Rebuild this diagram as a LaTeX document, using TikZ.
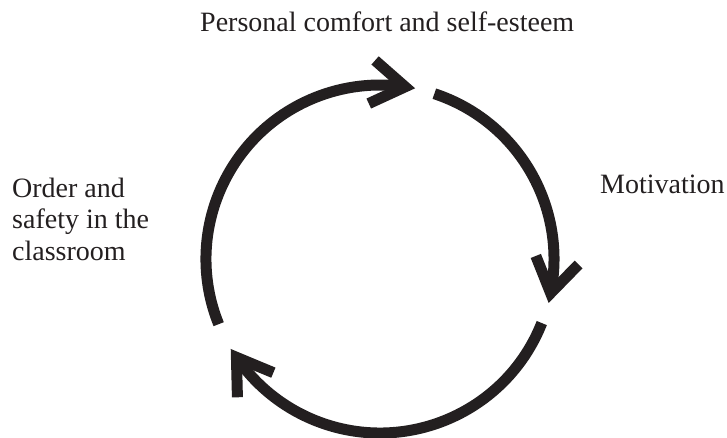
\documentclass[tikz,border=0pt]{standalone}
\usepackage{fontspec}
\setmainfont{Liberation Serif}
\usetikzlibrary{calc}
\definecolor{ink}{HTML}{231F20}
\begin{document}
\begin{tikzpicture}[x=1pt,y=-1pt,
  cyc/.style={line width=11pt, draw=ink, line cap=butt},
  barb/.style={line width=11pt, draw=ink, line cap=butt, line join=miter},
  lbl/.style={inner sep=0pt, text=ink, font=\fontsize{28}{31.5}\selectfont}]
\useasboundingbox (0,0) rectangle (727,438);
\coordinate (c) at (380,259);
% arcs (clockwise on screen = increasing angle since y is flipped)
\coordinate (s1) at ($(c)+(158:174)$);
\coordinate (v1) at ($(c)+(278.3:174)$);
\coordinate (s2) at ($(c)+(288.2:174)$);
\coordinate (v2) at ($(c)+(11.3:174)$);
\coordinate (s3) at ($(c)+(21.6:174)$);
\coordinate (v3) at ($(c)+(145.6:174)$);
\draw[cyc] (s1) arc[start angle=158, end angle=278.3, radius=174];
\draw[cyc] (s2) arc[start angle=288.2, end angle=371.3, radius=174];
\draw[cyc] (s3) arc[start angle=381.6, end angle=505.6, radius=174];
% arrowheads
\draw[barb] ($(v1)+(221.3:40)$) -- (v1) -- ($(v1)+(155.3:40)$);
\draw[barb] ($(v2)+(-45.7:40)$) -- (v2) -- ($(v2)+(-111.7:40)$);
\draw[barb] ($(v3)+(88.6:40)$) -- (v3) -- ($(v3)+(22.6:40)$);
% labels
\node[lbl, anchor=base west] (top) at (200,32) {Personal comfort and self-esteem};
\node[lbl, anchor=base west] (right) at (600,194) {Motivation};
\node[lbl, anchor=base west] (left) at (12,197) {\begin{tabular}[t]{@{}l@{}}Order and\\ safety in the\\ classroom\end{tabular}};
\end{tikzpicture}
\end{document}
